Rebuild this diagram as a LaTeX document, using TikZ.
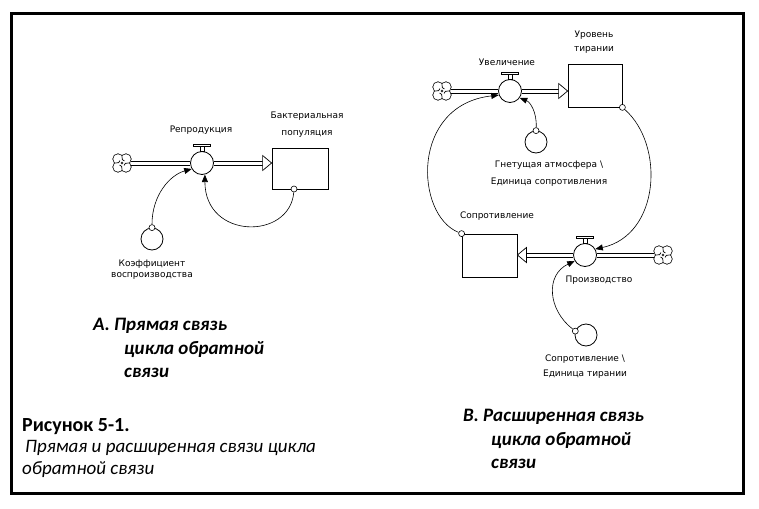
\documentclass[tikz,border=0pt]{standalone}
\usepackage{fontspec}
\setmainfont{Carlito}
\newfontfamily\labfont{DejaVu Sans}
\usetikzlibrary{calc,arrows.meta}
\tikzset{
 stock/.style={draw,line width=0.8pt,rectangle,inner sep=0},
 valve/.style={draw,circle,line width=0.8pt,minimum size=23pt,inner sep=0,fill=white},
 aux/.style={draw,circle,line width=0.8pt,minimum size=22pt,inner sep=0},
 srcdot/.style={draw,circle,line width=0.6pt,minimum size=6pt,inner sep=0,fill=white},
 cloudnode/.style={circle,minimum size=17.6pt,inner sep=0},
 cloudicon/.pic={
   \foreach \a/\b in {4/4,-4/4,4/-4,-4/-4} \draw[line width=1.5pt] (\a,\b) circle[radius=4.8pt];
   \foreach \a/\b in {4/4,-4/4,4/-4,-4/-4} \fill[white] (\a,\b) circle[radius=4.8pt];
   \foreach \r in {0,90,180,270} \draw[line width=0.7pt,rotate=\r] (0,-6.6) .. controls (0,-3.2) .. (2.4,-2);
 },
 pipeln/.style={draw,line width=0.75pt},
 info/.style={draw,line width=0.6pt,-{Triangle[length=7.5pt,width=6pt]}},
 lab/.style={font=\labfont\fontsize{9}{11}\selectfont,inner sep=0,align=center},
 title/.style={font=\fontsize{19}{23}\selectfont\bfseries\itshape,inner sep=0,anchor=base west},
 capb/.style={font=\fontsize{20}{23}\selectfont\bfseries,inner sep=0,anchor=base west},
 capi/.style={font=\fontsize{19}{23}\selectfont\itshape,inner sep=0,anchor=base west},
}
\newcommand\pipeline[2]{%
 \draw[pipeln] ($(#1)+(0,-1.9)$) -- ($(#2)+(0,-1.9)$);
 \draw[pipeln] ($(#1)+(0,1.9)$) -- ($(#2)+(0,1.9)$);}
\newcommand\flowhead[2]{\draw[fill=white,line width=0.7pt] (#1) -- ++(#2,-7.5) -- ++(0,15) -- cycle;}
\newcommand\valvehandle[1]{%
 \draw[line width=0.6pt,fill=white] ($(#1.north)+(-2,0)$) rectangle ($(#1.north)+(2,-4.5)$);
 \draw[line width=0.6pt,fill=white] ($(#1.north)+(-8.5,-4.5)$) rectangle ($(#1.north)+(8.5,-7)$);}
\begin{document}
\begin{tikzpicture}[x=1pt,y=-1pt]
\useasboundingbox (0,0) rectangle (759,508);
\draw[line width=3pt] (11.5,13.5) rectangle (743.5,493.5);
% ---------- A ----------
\node[cloudnode] (cl1) at (122,163) {};
\pic at (cl1) {cloudicon};
\node[stock,minimum width=56pt,minimum height=41pt] (s1) at (300,168.5) {};
\node[valve] (v1) at (202,163) {};
\pipeline{cl1.east}{v1.west}
\pipeline{v1.east}{$(v1.east -| s1.west)+(-7,0)$}
\flowhead{v1.east -| s1.west}{-9}
\valvehandle{v1}
\node[aux] (a1) at (152,239) {};
\node[srcdot] (d1) at (294,189) {};
\node[srcdot] (d2) at (a1.north) {};
\draw[info] (d1) .. controls (290,240) and (205,240) .. (v1.-76);
\draw[info] (d2) .. controls (152,195) and (170,175) .. (v1.-150);
\node[lab] (l1) at (201,130) {Репродукция};
\node[lab] (l2) at (307,124.5) {Бактериальная\\[6pt]популяция};
\node[lab] (l3) at (152,269.5) {Коэффициент\\воспроизводства};
% ---------- B ----------
\node[cloudnode] (cl2) at (442,91) {};
\pic at (cl2) {cloudicon};
\node[stock,minimum width=54pt,minimum height=43pt] (s2) at (595,85.5) {};
\node[valve] (v2) at (510,91) {};
\pipeline{cl2.east}{v2.west}
\pipeline{v2.east}{$(v2.east -| s2.west)+(-7,0)$}
\flowhead{v2.east -| s2.west}{-9}
\valvehandle{v2}
\node[aux] (a2) at (536,142) {};
\node[srcdot] (d5) at (a2.north) {};
\node[srcdot] (d3) at (s2.south east) {};

\node[cloudnode] (cl3) at (663,255) {};
\pic at (cl3) {cloudicon};
\node[stock,minimum width=55pt,minimum height=43pt] (s3) at (489.5,255.5) {};
\node[valve] (v3) at (585,255) {};
\pipeline{cl3.west}{v3.east}
\pipeline{v3.west}{$(v3.west -| s3.east)+(7,0)$}
\flowhead{v3.west -| s3.east}{9}
\valvehandle{v3}
\node[aux] (a3) at (586,335) {};
\node[srcdot] (d6) at (a3.160) {};
\node[srcdot] (d4) at (s3.north west) {};

\draw[info] (d3) .. controls (665,145) and (660,235) .. (v3.30);
\draw[info] (d4) .. controls (415,215) and (410,105) .. (v2.200);
\draw[info] (d5) .. controls (537,112) and (530,102) .. (v2.-35);
\draw[info] (d6) .. controls (548,310) and (545,275) .. (v3.210);

\node[lab] (l4) at (594,42) {Уровень\\[3pt]тирании};
\node[lab] (l5) at (507,62) {Увеличение};
\node[lab] (l6) at (549,173.5) {Гнетущая атмосфера \textbackslash\\[6pt]Единица сопротивления};
\node[lab] (l7) at (497,216) {Сопротивление};
\node[lab] (l8) at (599,280) {Производство};
\node[lab] (l9) at (585,366.5) {Сопротивление \textbackslash\\[4pt]Единица тирании};
% ---------- titles ----------
\node[title] (ta1) at (93,330) {А. Прямая связь};
\node[title] (ta2) at (124,354) {цикла обратной};
\node[title] (ta3) at (124,377) {связи};
\node[title] (tb1) at (463,421) {В. Расширенная связь};
\node[title] (tb2) at (491,445) {цикла обратной};
\node[title] (tb3) at (491,468) {связи};
\node[capb] (c1) at (22,431) {Рисунок 5-1.};
\node[capi] (c2) at (25,452) {Прямая и расширенная связи цикла};
\node[capi] (c3) at (22,474) {обратной связи};
\end{tikzpicture}
\end{document}
